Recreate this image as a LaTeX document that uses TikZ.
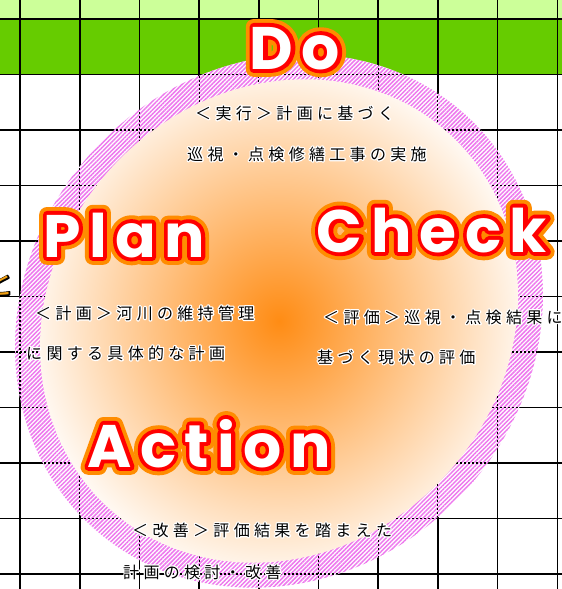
\documentclass[tikz,border=0pt]{standalone}
\usepackage{fontspec}
\usepackage{xcolor}
\usetikzlibrary{patterns.meta}
\setmainfont{Poppins}
\newfontfamily\popfont{Poppins}[LetterSpace=14]
\newfontfamily\popred{Poppins}[LetterSpace=14,BoldFeatures={FakeBold=13}]
\newfontfamily\popglow{Poppins}[LetterSpace=14,BoldFeatures={FakeBold=26}]
\newfontfamily\jpfont{Noto Sans CJK JP}[LetterSpace=27]
\newfontfamily\jpglow{Noto Sans CJK JP}[LetterSpace=27,FakeBold=16]
\newfontfamily\jpplain{Noto Sans CJK JP}
\newfontfamily\jpedge{Noto Sans CJK JP}[FakeBold=8]
\definecolor{lightgreen}{RGB}{204,255,153}
\definecolor{darkgreen}{RGB}{102,204,0}
\definecolor{hatchpink}{RGB}{238,120,238}
\definecolor{centerorange}{RGB}{255,140,20}
\definecolor{glow}{RGB}{255,140,0}
\definecolor{redline}{RGB}{255,0,0}
\definecolor{toorange}{RGB}{240,160,20}
\newcommand\popword[1]{\leavevmode
  \rlap{\popglow\bfseries\textcolor{glow}{#1}}%
  \rlap{\popred\bfseries\textcolor{redline}{#1}}%
  {\popfont\bfseries\textcolor{white}{#1}}}
\newcommand\glowjp[1]{\leavevmode
  \rlap{\jpglow\textcolor{white}{#1}}%
  \textcolor{black}{#1}}
\begin{document}
\begin{tikzpicture}[x=1pt,y=-1pt,line join=round,
  gridline/.style={line width=1.6pt,black},
  ringgrid/.style={line width=1.1pt,black,dash pattern=on 2pt off 2pt},
  bigword/.style={inner sep=0pt,anchor=base,font=\popfont\bfseries\fontsize{60}{60}\selectfont},
  jptext/.style={inner sep=0pt,anchor=west,font=\jpfont\fontsize{16}{16}\selectfont}]
\useasboundingbox (0,0) rectangle (562,589);
% background grid
\fill[white] (0,0) rectangle (562,589);
\fill[lightgreen] (0,0) rectangle (562,19);
\fill[darkgreen] (0,19) rectangle (562,74.5);
\foreach \i in {0,...,9} \draw[gridline] ({20+59.7*\i},0) -- ({20+59.7*\i},589);
\foreach \j in {0,...,10} \draw[gridline] (0,{19+55.5*\j}) -- (562,{19+55.5*\j});
% partial character at left edge
\node[anchor=east,inner sep=0pt,font=\jpplain\fontsize{28}{28}\selectfont] (to) at (14,284)
  {\rlap{\jpedge\textcolor{black}{と}}\textcolor{toorange}{と}};
% hatched ring
\begin{scope}
  \clip[shift={(279,321)},rotate=48] (0,0) ellipse [x radius=278,y radius=252];
  \fill[white] (0,0) rectangle (562,589);
  \fill[pattern={Lines[angle=45,distance=3pt,line width=1.5pt]},pattern color=hatchpink] (0,0) rectangle (562,589);
  \foreach \i in {0,...,9} \draw[ringgrid] ({20+59.7*\i},0) -- ({20+59.7*\i},589);
  \foreach \j in {0,...,10} \draw[ringgrid] (0,{19+55.5*\j}) -- (562,{19+55.5*\j});
\end{scope}
% inner gradient disc
\shade[shift={(279,321)},rotate=48,inner color=centerorange,outer color=white] (0,0) ellipse [x radius=253,y radius=227];
% big words
\node[bigword] (do) at (295,69) {\popword{Do}};
\node[bigword] (plan) at (124,257) {\popword{Plan}};
\node[bigword] (check) at (432,252) {\popword{Check}};
\node[bigword] (action) at (209,467) {\popword{Action}};
% descriptions
\node[jptext] (do1) at (195,113) {\glowjp{＜実行＞計画に基づく}};
\node[jptext] (do2) at (187,154) {\glowjp{巡視・点検修繕工事の実施}};
\node[jptext] (plan1) at (35,313) {\glowjp{＜計画＞河川の維持管理}};
\node[jptext] (plan2) at (26,353) {\glowjp{に関する具体的な計画}};
\node[jptext] (check1) at (323,317) {\glowjp{＜評価＞巡視・点検結果に}};
\node[jptext] (check2) at (317,357) {\glowjp{基づく現状の評価}};
\node[jptext] (act1) at (132,530) {\glowjp{＜改善＞評価結果を踏まえた}};
\node[jptext] (act2) at (123,572) {\glowjp{計画の検討・改善}};
\end{tikzpicture}
\end{document}
